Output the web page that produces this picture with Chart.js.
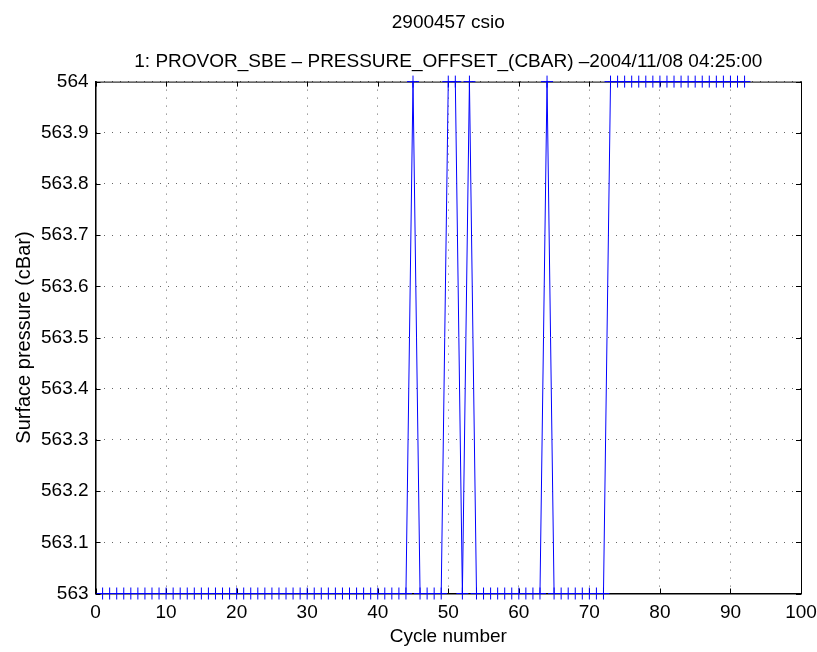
<!DOCTYPE html>
<html>
<head>
<meta charset="utf-8">
<script src="https://cdn.jsdelivr.net/npm/chart.js@4/dist/chart.umd.min.js"></script>
<style>
  html, body { margin: 0; padding: 0; background: #fff; }
  #wrap { width: 817px; height: 652px; }
</style>
</head>
<body>
<div id="wrap"><canvas id="pressureChart" width="817" height="652"></canvas></div>
<script>
// Cycle numbers and surface pressure offsets
const cycles = [
  1, 2, 3, 4, 5, 6, 7, 8, 9, 10,
  11, 12, 13, 14, 15, 16, 17, 18, 19, 20,
  21, 22, 23, 24, 25, 26, 27, 28, 29, 30,
  31, 32, 33, 34, 35, 36, 37, 38, 39, 40,
  41, 42, 43, 44, 45, 46, 47, 48, 49, 50,
  51, 52, 53, 54, 55, 56, 57, 58, 59, 60,
  61, 62, 63, 64, 65, 66, 67, 68, 69, 70,
  71, 72, 73, 74, 75, 76, 77, 78, 79, 80,
  81, 82, 83, 84, 85, 86, 87, 88, 89, 90,
  91, 92
];
const pressure = [
  563, 563, 563, 563, 563, 563, 563, 563, 563, 563,
  563, 563, 563, 563, 563, 563, 563, 563, 563, 563,
  563, 563, 563, 563, 563, 563, 563, 563, 563, 563,
  563, 563, 563, 563, 563, 563, 563, 563, 563, 563,
  563, 563, 563, 563, 564, 563, 563, 563, 563, 564,
  564, 563, 564, 563, 563, 563, 563, 563, 563, 563,
  563, 563, 563, 564, 563, 563, 563, 563, 563, 563,
  563, 563, 564, 564, 564, 564, 564, 564, 564, 564,
  564, 564, 564, 564, 564, 564, 564, 564, 564, 564,
  564, 564
];

const mainTitle = '2900457 csio';
const subTitle = '1: PROVOR_SBE \u2013 PRESSURE_OFFSET_(CBAR) \u20132004/11/08 04:25:00';
const xLabel = 'Cycle number';
const yLabel = 'Surface pressure (cBar)';

const fontFamily = '"Liberation Sans", Arial, Helvetica, sans-serif';

// box around the axes plus small inward ticks, matlab style
const axesBox = {
  id: 'axesBox',
  beforeDatasetsDraw(chart) {
    const { ctx, chartArea: a, scales } = chart;
    ctx.save();
    ctx.strokeStyle = '#000';
    ctx.lineWidth = 1;
    ctx.strokeRect(a.left + 0.5, a.top + 0.5, a.right - a.left, a.bottom - a.top);
    const len = 5;
    ctx.beginPath();
    scales.x.ticks.forEach(t => {
      const px = Math.round(scales.x.getPixelForValue(t.value)) + 0.5;
      ctx.moveTo(px, a.bottom); ctx.lineTo(px, a.bottom - len);
      ctx.moveTo(px, a.top); ctx.lineTo(px, a.top + len);
    });
    scales.y.ticks.forEach(t => {
      const py = Math.round(scales.y.getPixelForValue(t.value)) + 0.5;
      ctx.moveTo(a.left, py); ctx.lineTo(a.left + len, py);
      ctx.moveTo(a.right, py); ctx.lineTo(a.right - len, py);
    });
    ctx.stroke();
    ctx.restore();
  }
};

const ctx = document.getElementById('pressureChart').getContext('2d');
const chart = new Chart(ctx, {
  type: 'line',
  data: {
    datasets: [{
      label: 'Surface pressure',
      data: cycles.map((c, i) => ({ x: c, y: pressure[i] })),
      borderColor: '#0000ff',
      borderWidth: 1,
      pointStyle: 'cross',
      pointRadius: 6,
      pointBorderColor: '#0000ff',
      pointBorderWidth: 1,
      tension: 0,
      clip: false
    }]
  },
  options: {
    responsive: false,
    animation: false,
    layout: { padding: { left: 1, right: 2, top: 0, bottom: 0 } },
    plugins: {
      legend: { display: false },
      tooltip: { enabled: false },
      title: {
        display: true,
        text: mainTitle,
        fullSize: false,
        color: '#000',
        font: { family: fontFamily, size: 19, weight: 'normal' },
        padding: { top: 11, bottom: 8 }
      },
      subtitle: {
        display: true,
        text: subTitle,
        fullSize: false,
        color: '#000',
        font: { family: fontFamily, size: 19, weight: 'normal' },
        padding: { top: 9, bottom: 8 }
      }
    },
    scales: {
      x: {
        type: 'linear',
        min: 0,
        max: 100,
        // the "100" label may hang past the plot edge like in the original
        afterFit: scale => { scale.paddingRight = 16; },
        ticks: {
          stepSize: 10,
          color: '#000',
          padding: 10,
          maxRotation: 0,
          font: { family: fontFamily, size: 19, lineHeight: 1 }
        },
        grid: { color: '#666', drawTicks: false, lineWidth: 1 },
        border: { display: true, color: '#000', width: 1, dash: [1, 7] },
        title: {
          display: true,
          text: xLabel,
          color: '#000',
          font: { family: fontFamily, size: 19, lineHeight: 0.5 },
          padding: { top: 0, bottom: 10 }
        }
      },
      y: {
        type: 'linear',
        min: 563,
        max: 564,
        ticks: {
          stepSize: 0.1,
          color: '#000',
          padding: 7,
          font: { family: fontFamily, size: 19, lineHeight: 1 },
          callback: v => Math.abs(v - Math.round(v)) < 1e-9 ? String(Math.round(v)) : Number(v).toFixed(1)
        },
        grid: { color: '#666', drawTicks: false, lineWidth: 1 },
        border: { display: true, color: '#000', width: 1, dash: [1, 7] },
        title: {
          display: true,
          text: yLabel,
          color: '#000',
          font: { family: fontFamily, size: 20, lineHeight: 1 },
          padding: { top: 13, bottom: 0 }
        }
      }
    }
  },
  plugins: [axesBox]
});
</script>
</body>
</html>
